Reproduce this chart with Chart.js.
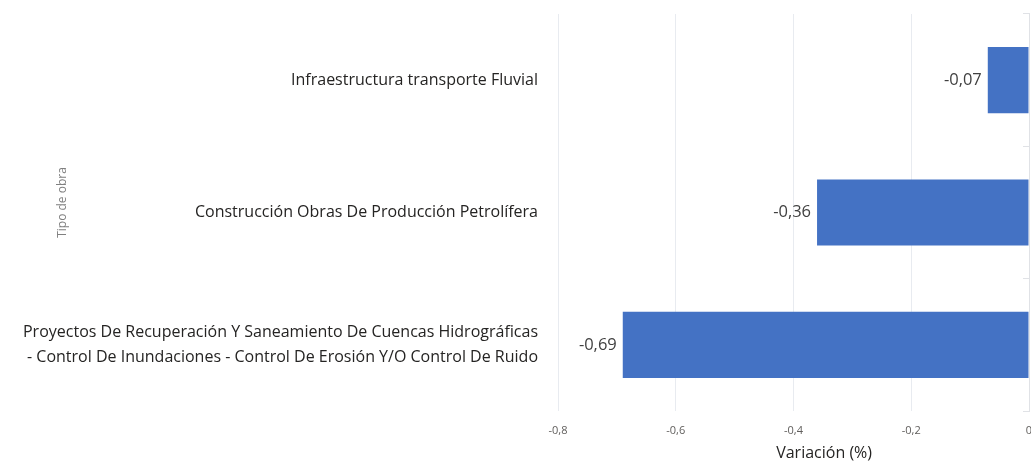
<!DOCTYPE html>
<html>
<head>
<meta charset="utf-8">
<script src="https://cdn.jsdelivr.net/npm/chart.js@4.4.0/dist/chart.umd.min.js"></script>
<style>
  html, body { margin: 0; padding: 0; background: #ffffff; overflow: hidden; }
  #wrap { position: relative; width: 1060px; height: 463px; }
</style>
</head>
<body>
<div id="wrap"><canvas id="c"></canvas></div>
<script>
const categories = [
  "Infraestructura transporte Fluvial",
  "Construcción Obras De Producción Petrolífera",
  ["Proyectos De Recuperación Y Saneamiento De Cuencas Hidrográficas", "- Control De Inundaciones - Control De Erosión Y/O Control De Ruido"]
];
const variacion = [-0.07, -0.36, -0.69];
const dataLabels = ["-0,07", "-0,36", "-0,69"];
const xTickValues = [-0.8, -0.6, -0.4, -0.2, 0];
const xTickLabels = ["-0,8", "-0,6", "-0,4", "-0,2", "0"];
const xTitle = "Variación (%)";
const yTitle = "Tipo de obra";

const FONT = "'Open Sans', 'Noto Sans', sans-serif";

const labelPlugin = {
  id: 'barLabels',
  afterDatasetsDraw(chart) {
    const ctx = chart.ctx;
    const meta = chart.getDatasetMeta(0);
    ctx.save();
    ctx.font = "16.5px " + FONT;
    ctx.fillStyle = "#404040";
    ctx.textAlign = "right";
    ctx.textBaseline = "middle";
    meta.data.forEach((bar, i) => {
      ctx.fillText(dataLabels[i], bar.x - 6, bar.y);
    });
    ctx.restore();
  }
};

const titlePlugin = {
  id: 'axisTitles',
  afterDraw(chart) {
    const ctx = chart.ctx;
    const a = chart.chartArea;
    ctx.save();
    ctx.font = "16px " + FONT;
    ctx.fillStyle = "#252423";
    ctx.textAlign = "center";
    ctx.textBaseline = "middle";
    ctx.fillText(xTitle, a.left + (a.right - a.left) * 0.565, 453);
    ctx.font = "12px " + FONT;
    ctx.fillStyle = "#808080";
    ctx.translate(63, (a.top + a.bottom) / 2 - 10);
    ctx.rotate(-Math.PI / 2);
    ctx.fillText(yTitle, 0, 0);
    ctx.restore();
  }
};

new Chart(document.getElementById('c'), {
  type: 'bar',
  data: {
    labels: categories,
    datasets: [{
      data: variacion,
      backgroundColor: '#4472C4',
      borderWidth: 0,
      categoryPercentage: 1.0,
      barPercentage: 0.5
    }]
  },
  options: {
    indexAxis: 'y',
    responsive: true,
    maintainAspectRatio: false,
    animation: false,
    layout: { padding: { left: 0, right: 31, top: 14, bottom: 0 } },
    plugins: { legend: { display: false }, tooltip: { enabled: false } },
    scales: {
      x: {
        min: -0.8,
        max: 0,
        afterBuildTicks(scale) { scale.ticks = xTickValues.map(v => ({ value: v })); },
        afterFit(scale) { scale.height = 52; scale.paddingLeft = 0; scale.paddingRight = 0; },
        ticks: {
          padding: 13,
          color: '#605E5C',
          font: { family: FONT, size: 11 },
          callback(value) {
            const i = xTickValues.findIndex(v => Math.abs(v - value) < 1e-9);
            return i >= 0 ? xTickLabels[i] : '';
          }
        },
        grid: { color: '#E8EBF0', lineWidth: 1, drawTicks: false },
        border: { display: false }
      },
      y: {
        afterFit(scale) { scale.width = 558; scale.paddingTop = 0; scale.paddingBottom = 0; },
        ticks: {
          padding: 20,
          color: '#252423',
          font: { family: FONT, size: 16, lineHeight: 1.6 }
        },
        grid: { display: false, drawTicks: false },
        border: { display: false }
      },
      y2: {
        type: 'category',
        position: 'right',
        labels: categories,
        afterFit(scale) { scale.width = 0; scale.paddingTop = 0; scale.paddingBottom = 0; },
        ticks: { display: false },
        grid: { offset: true, drawOnChartArea: false, drawTicks: true, tickLength: -6, color: '#E0E2E6' },
        border: { display: true, color: '#E0E2E6' }
      }
    }
  },
  plugins: [labelPlugin, titlePlugin]
});
</script>
</body>
</html>
